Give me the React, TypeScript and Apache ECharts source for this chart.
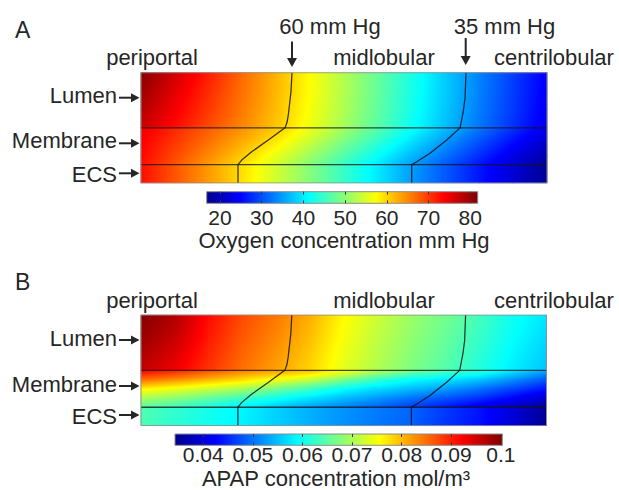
import React, { useEffect, useRef } from 'react';
import * as echarts from 'echarts';

// ---------- labels ----------
const zoneLabels = ['periportal', 'midlobular', 'centrilobular'];
const layerLabels = ['Lumen', 'Membrane', 'ECS'];
const contourLabels = ['60 mm Hg', '35 mm Hg'];
const panelLabels = ['A', 'B'];
const oxygenTitle = 'Oxygen concentration mm Hg';
const apapTitle = 'APAP concentration mol/m³';

// ---------- colour bars ----------
const oxygenTicks = [20, 30, 40, 50, 60, 70, 80];
const oxygenRange = [16.8, 81.8];
const apapTicks = [0.04, 0.05, 0.06, 0.07, 0.08, 0.09, 0.1];
const apapRange = [0.0343, 0.1003];

// jet colour map stops [t, r, g, b]
const jetStops = [
  [0, 0, 0, 140],
  [0.125, 0, 0, 255],
  [0.375, 0, 255, 255],
  [0.625, 255, 255, 0],
  [0.875, 255, 0, 0],
  [1, 128, 0, 0],
];

// ---------- field grid (x: periportal 0 -> centrilobular 12; y: depth 0 top -> 6 bottom) ----------
const colNodes = [0, 1, 2, 3, 4, 5, 6, 7, 8, 9, 10, 11, 12];
const lumenRows = [0, 1, 2, 3];
const membraneRows = [3, 3.5, 4, 4.5, 5];
const ecsRows = [5, 6];
const layerBoundaries = [3, 5];

// Oxygen (mm Hg)
const oxygenLumen = [
  [81.5, 76.7, 71.9, 67.0, 62.2, 57.4, 52.5, 47.7, 42.8, 37.9, 33.2, 28.9, 24.5],
  [80.0, 75.5, 71.0, 66.5, 62.0, 57.3, 52.5, 47.6, 42.7, 37.9, 33.2, 28.7, 24.3],
  [78.5, 74.3, 70.1, 65.9, 61.6, 57.0, 52.2, 47.3, 42.4, 37.6, 32.9, 28.5, 24.0],
  [77.0, 73.0, 69.0, 65.0, 61.0, 56.4, 51.6, 46.7, 41.9, 37.1, 32.5, 28.0, 23.5],
];
const oxygenMembrane = [
  [74.7, 71.3, 67.8, 64.3, 60.9, 56.4, 51.6, 46.7, 41.9, 37.1, 32.5, 28.0, 23.5],
  [74.2, 70.6, 67.0, 63.3, 59.6, 54.7, 49.9, 45.1, 40.2, 35.4, 30.9, 26.5, 22.0],
  [73.8, 69.9, 66.0, 62.1, 57.8, 53.0, 48.1, 43.3, 38.5, 33.8, 29.3, 24.9, 20.5],
  [73.4, 69.2, 65.0, 60.8, 56.1, 51.3, 46.4, 41.6, 36.8, 32.2, 27.8, 23.4, 19.0],
  [73.0, 68.5, 63.9, 59.4, 54.5, 49.6, 44.7, 39.9, 35.0, 30.6, 26.3, 21.9, 17.5],
];
const oxygenECS = [
  [73.0, 68.5, 63.9, 59.4, 54.5, 49.6, 44.7, 39.9, 35.0, 30.6, 26.3, 21.9, 17.5],
  [72.8, 68.3, 63.8, 59.3, 54.4, 49.5, 44.6, 39.8, 34.9, 30.5, 26.2, 21.8, 17.3],
];

// APAP (mol/m3)
const apapLumen = [
  [0.1000, 0.0972, 0.0915, 0.0873, 0.0843, 0.0808, 0.0757, 0.0722, 0.0690, 0.0665, 0.0635, 0.0600, 0.0574],
  [0.0990, 0.0960, 0.0908, 0.0866, 0.0836, 0.0800, 0.0752, 0.0716, 0.0685, 0.0659, 0.0628, 0.0594, 0.0568],
  [0.0975, 0.0945, 0.0898, 0.0857, 0.0826, 0.0791, 0.0745, 0.0710, 0.0679, 0.0652, 0.0620, 0.0587, 0.0560],
  [0.0960, 0.0930, 0.0888, 0.0848, 0.0816, 0.0782, 0.0738, 0.0703, 0.0672, 0.0645, 0.0612, 0.0580, 0.0552],
];
const apapMembrane = [
  [0.0925, 0.0900, 0.0870, 0.0840, 0.0820, 0.0800, 0.0758, 0.0710, 0.0668, 0.0645, 0.0620, 0.0578, 0.0535],
  [0.0850, 0.0830, 0.0805, 0.0778, 0.0750, 0.0720, 0.0670, 0.0625, 0.0592, 0.0575, 0.0555, 0.0520, 0.0482],
  [0.0765, 0.0745, 0.0722, 0.0700, 0.0665, 0.0630, 0.0592, 0.0568, 0.0548, 0.0528, 0.0500, 0.0470, 0.0439],
  [0.0700, 0.0680, 0.0655, 0.0629, 0.0600, 0.0574, 0.0548, 0.0525, 0.0500, 0.0480, 0.0458, 0.0425, 0.0389],
  [0.0650, 0.0630, 0.0605, 0.0583, 0.0555, 0.0530, 0.0510, 0.0488, 0.0465, 0.0440, 0.0411, 0.0383, 0.0355],
];
const apapECS = [
  [0.0642, 0.0622, 0.0603, 0.0585, 0.0562, 0.0540, 0.0521, 0.0505, 0.0490, 0.0462, 0.0438, 0.0398, 0.0350],
  [0.0640, 0.0620, 0.0601, 0.0583, 0.0560, 0.0538, 0.0519, 0.0503, 0.0488, 0.0460, 0.0436, 0.0396, 0.0347],
];

// oxygen iso-lines (x in column units, y in depth units)
const contour60 = [[4.463, 0], [4.434, 1], [4.404, 1.5], [4.354, 2.3], [4.316, 2.7], [4.257, 3], [3.763, 3.66], [3.272, 4.3], [2.977, 4.75], [2.867, 5], [2.867, 6]];
const contour35 = [[9.606, 0], [9.577, 1.4], [9.526, 2.1], [9.43, 3], [9.036, 3.66], [8.543, 4.38], [8.15, 4.84], [8.002, 5], [8.002, 6]];

const FONT = "'Liberation Sans', Arial, Helvetica, sans-serif";
const INK = '#262626';

function jet(t: number): string {
  const v = Math.max(0, Math.min(1, t));
  for (let i = 1; i < jetStops.length; i++) {
    const a = jetStops[i - 1];
    const b = jetStops[i];
    if (v <= b[0]) {
      const f = (v - a[0]) / (b[0] - a[0]);
      const r = Math.round(a[1] + (b[1] - a[1]) * f);
      const g = Math.round(a[2] + (b[2] - a[2]) * f);
      const bl = Math.round(a[3] + (b[3] - a[3]) * f);
      return `rgb(${r},${g},${bl})`;
    }
  }
  return 'rgb(128,0,0)';
}

function buildCells(layers: [number[], number[][]][]) {
  const out: number[][] = [];
  layers.forEach(([rows, vals]) => {
    for (let r = 0; r < rows.length - 1; r++) {
      for (let c = 0; c < colNodes.length - 1; c++) {
        out.push([colNodes[c], rows[r], colNodes[c + 1], rows[r + 1], vals[r][c], vals[r][c + 1], vals[r + 1][c], vals[r + 1][c + 1]]);
      }
    }
  });
  return out;
}

function cellRenderer(range: number[]) {
  return (params: any, api: any) => {
    const a = api.coord([api.value(0), api.value(1)]);
    const b = api.coord([api.value(2), api.value(3)]);
    const left = Math.min(a[0], b[0]);
    const top = Math.min(a[1], b[1]);
    const w = Math.abs(b[0] - a[0]);
    const h = Math.abs(b[1] - a[1]);
    const span = range[1] - range[0];
    const tl = (api.value(4) - range[0]) / span;
    const tr = (api.value(5) - range[0]) / span;
    const bl = (api.value(6) - range[0]) / span;
    const br = (api.value(7) - range[0]) / span;
    const gx = ((tr - tl) + (br - bl)) / (2 * w);
    const gy = ((bl - tl) + (br - tr)) / (2 * h);
    const t0 = (tl + tr + bl + br) / 4;
    const cx = left + w / 2;
    const cy = top + h / 2;
    const ext = Math.abs(gx) * w / 2 + Math.abs(gy) * h / 2;
    let fill: any = jet(t0);
    if (ext > 1e-6) {
      const g2 = gx * gx + gy * gy;
      const lo = t0 - ext;
      const hi = t0 + ext;
      const p1 = [cx + gx * (lo - t0) / g2, cy + gy * (lo - t0) / g2];
      const p2 = [cx + gx * (hi - t0) / g2, cy + gy * (hi - t0) / g2];
      const stops: any[] = [{ offset: 0, color: jet(lo) }];
      jetStops.forEach((s) => {
        if (s[0] > lo && s[0] < hi) stops.push({ offset: (s[0] - lo) / (hi - lo), color: jet(s[0]) });
      });
      stops.push({ offset: 1, color: jet(hi) });
      fill = new echarts.graphic.LinearGradient(p1[0], p1[1], p2[0], p2[1], stops, true);
    }
    return {
      type: 'rect',
      shape: { x: left - 0.35, y: top - 0.35, width: w + 0.7, height: h + 0.7 },
      style: { fill, stroke: null },
    };
  };
}

function barRenderer() {
  return (params: any, api: any) => {
    const a = api.coord([api.value(0), 0]);
    const b = api.coord([api.value(1), 1]);
    const stops = jetStops.map((s) => ({ offset: s[0], color: jet(s[0]) }));
    return {
      type: 'rect',
      shape: { x: a[0], y: b[1], width: b[0] - a[0], height: a[1] - b[1] },
      style: { fill: new echarts.graphic.LinearGradient(0, 0, 1, 0, stops), stroke: '#8c8c8c', lineWidth: 1 },
    };
  };
}

function txt(text: string, x: number, y: number, size: number, align = 'center', lineHeight?: number) {
  const style: any = {
    text,
    fontSize: size,
    fontFamily: FONT,
    fill: INK,
    align,
    textAlign: align,
    verticalAlign: 'middle',
    textVerticalAlign: 'middle',
  };
  if (lineHeight) style.lineHeight = lineHeight;
  return { type: 'text', x, y, silent: true, z: 20, style };
}

function rightArrow(y: number) {
  return [
    { type: 'line', silent: true, z: 20, shape: { x1: 119, y1: y, x2: 133, y2: y }, style: { stroke: INK, lineWidth: 2 } },
    { type: 'polygon', silent: true, z: 20, shape: { points: [[131, y - 4.5], [139.5, y], [131, y + 4.5]] }, style: { fill: INK } },
  ];
}

function downArrow(x: number, y1: number, y2: number) {
  return [
    { type: 'line', silent: true, z: 20, shape: { x1: x, y1, x2: x, y2: y2 - 7 }, style: { stroke: INK, lineWidth: 2 } },
    { type: 'polygon', silent: true, z: 20, shape: { points: [[x - 5, y2 - 9], [x, y2], [x + 5, y2 - 9]] }, style: { fill: INK } },
  ];
}

function fieldAxes(gridIndex: number) {
  return {
    x: { type: 'value', gridIndex, min: 0, max: 12, show: false },
    y: { type: 'value', gridIndex, min: 0, max: 6, inverse: true, show: false },
  };
}

function barAxes(gridIndex: number, range: number[], ticks: number[], fmt: (v: number) => string, margin: number, lineHeight: number) {
  const tickStyle = { show: true, inside: true, length: 3, customValues: ticks, lineStyle: { color: '#3a3a3a', width: 1 } };
  return [
    {
      type: 'value', gridIndex, min: range[0], max: range[1], position: 'bottom', z: 10,
      axisLine: { show: false }, splitLine: { show: false },
      axisTick: tickStyle,
      axisLabel: { show: true, customValues: ticks, formatter: fmt, fontSize: 21, fontFamily: FONT, color: INK, margin, lineHeight },
    },
    {
      type: 'value', gridIndex, min: range[0], max: range[1], position: 'top', z: 10,
      axisLine: { show: false }, splitLine: { show: false },
      axisTick: tickStyle,
      axisLabel: { show: false },
    },
  ];
}

function lineSeries(data: number[][], xi: number, yi: number, color: string, width: number) {
  return {
    type: 'line', xAxisIndex: xi, yAxisIndex: yi, data, symbol: 'none', silent: true, z: 5,
    lineStyle: { color, width }, animation: false,
  };
}

function panelSeries(xi: number, yi: number, cells: number[][], range: number[]) {
  const border = [[0, 0], [12, 0], [12, 6], [0, 6], [0, 0]];
  return [
    {
      type: 'custom', xAxisIndex: xi, yAxisIndex: yi, data: cells, silent: true, z: 2,
      encode: { x: [0, 2], y: [1, 3] },
      renderItem: cellRenderer(range),
    },
    ...layerBoundaries.map((b) => lineSeries([[0, b], [12, b]], xi, yi, 'rgba(20,20,20,0.78)', 1.4)),
    lineSeries(contour60, xi, yi, 'rgba(20,20,20,0.85)', 1.25),
    lineSeries(contour35, xi, yi, 'rgba(20,20,20,0.85)', 1.25),
    lineSeries(border, xi, yi, '#8f8f8f', 1),
  ];
}

function buildOption() {
  const fa = fieldAxes(0);
  const fb = fieldAxes(2);
  const oxyCells = buildCells([[lumenRows, oxygenLumen], [membraneRows, oxygenMembrane], [ecsRows, oxygenECS]]);
  const apapCells = buildCells([[lumenRows, apapLumen], [membraneRows, apapMembrane], [ecsRows, apapECS]]);
  const oxyBarAxes = barAxes(1, oxygenRange, oxygenTicks, (v) => String(Math.round(v)), 5, 18);
  const apapBarAxes = barAxes(3, apapRange, apapTicks, (v) => String(+v.toFixed(2)), 1, 16);

  const graphics: any[] = [
    txt(panelLabels[0], 15, 30, 23, 'left'),
    txt(contourLabels[0], 330, 26.5, 22),
    txt(contourLabels[1], 504.5, 26.5, 22),
    txt(zoneLabels[0], 152, 57.5, 22),
    txt(zoneLabels[1], 384, 57.5, 22),
    txt(zoneLabels[2], 554, 57.5, 22),
    txt(layerLabels[0], 117, 95.2, 22, 'right'),
    txt(layerLabels[1], 117, 140.8, 22, 'right'),
    txt(layerLabels[2], 117, 174, 22, 'right'),
    txt(oxygenTitle, 344, 240, 22),
    ...downArrow(292, 41.5, 67),
    ...downArrow(465.7, 38, 65),
    ...rightArrow(97.7),
    ...rightArrow(143.3),
    ...rightArrow(173.3),

    txt(panelLabels[1], 15, 282, 23, 'left'),
    txt(zoneLabels[0], 152, 300, 22),
    txt(zoneLabels[1], 384, 300, 22),
    txt(zoneLabels[2], 554, 300, 22),
    txt(layerLabels[0], 117, 338.4, 22, 'right'),
    txt(layerLabels[1], 117, 384, 22, 'right'),
    txt(layerLabels[2], 117, 416.4, 22, 'right'),
    txt(apapTitle, 336, 478, 22, 'center', 16),
    ...rightArrow(340),
    ...rightArrow(386),
    ...rightArrow(415),
  ];

  return {
    animation: false,
    backgroundColor: '#ffffff',
    grid: [
      { left: 141, top: 72.7, width: 406, height: 110.3, show: false },
      { left: 206.7, top: 191.7, width: 271, height: 11.6, show: false },
      { left: 141, top: 315, width: 405.5, height: 110.7, show: false },
      { left: 175, top: 434, width: 327.3, height: 11.3, show: false },
    ],
    xAxis: [fa.x, oxyBarAxes[0], oxyBarAxes[1], fb.x, apapBarAxes[0], apapBarAxes[1]],
    yAxis: [
      fa.y,
      { type: 'value', gridIndex: 1, min: 0, max: 1, show: false },
      fb.y,
      { type: 'value', gridIndex: 3, min: 0, max: 1, show: false },
    ],
    series: [
      ...panelSeries(0, 0, oxyCells, oxygenRange),
      {
        type: 'custom', xAxisIndex: 1, yAxisIndex: 1, silent: true, z: 2,
        data: [[oxygenRange[0], oxygenRange[1]]], encode: { x: [0, 1] },
        renderItem: barRenderer(),
      },
      ...panelSeries(3, 2, apapCells, apapRange),
      {
        type: 'custom', xAxisIndex: 4, yAxisIndex: 3, silent: true, z: 2,
        data: [[apapRange[0], apapRange[1]]], encode: { x: [0, 1] },
        renderItem: barRenderer(),
      },
    ],
    graphic: graphics,
  };
}

export default function App() {
  const ref = useRef<HTMLDivElement>(null);
  useEffect(() => {
    if (!ref.current) return;
    const chart = echarts.init(ref.current, null, { renderer: 'svg' });
    chart.setOption(buildOption() as any);
    return () => chart.dispose();
  }, []);
  return (
    <div
      ref={ref}
      style={{ position: 'absolute', left: 0, top: 0, width: 619, height: 490, background: '#ffffff' }}
    />
  );
}
